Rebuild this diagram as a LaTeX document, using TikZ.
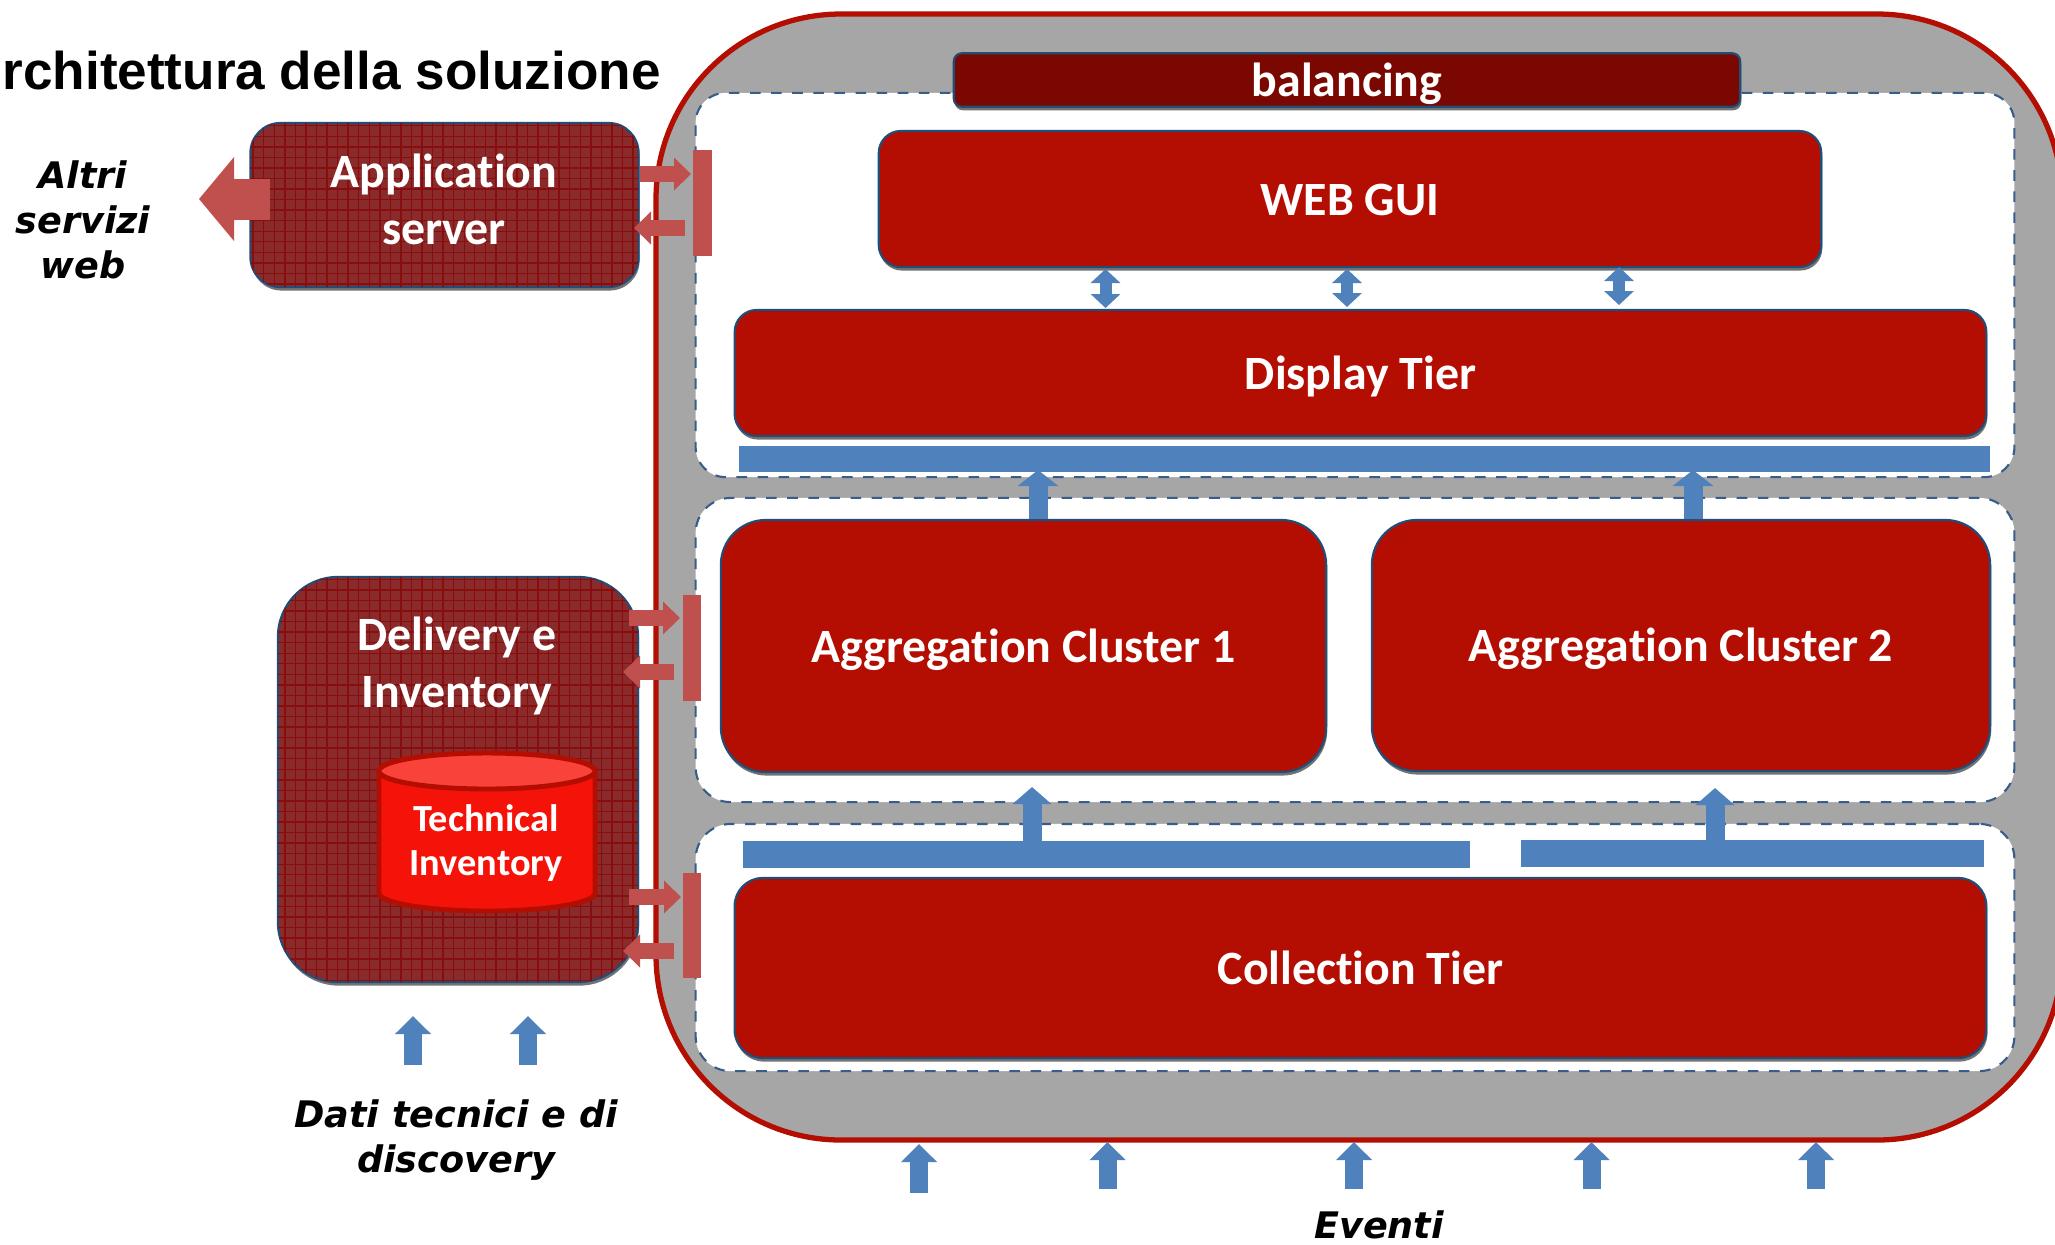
\documentclass[tikz,border=0pt]{standalone}
\usepackage{fontspec}
\setmainfont{Carlito}[Ligatures=NoCommon]
\newfontfamily\titlefont{Liberation Sans}
\newfontfamily\notefont{DejaVu Sans}
\usetikzlibrary{arrows.meta, patterns, shadows}
\definecolor{boxred}{HTML}{B40D02}
\definecolor{darkred}{HTML}{7A0800}
\definecolor{texred}{HTML}{8A2A2A}
\definecolor{gridred}{HTML}{860E0E}
\definecolor{linkred}{HTML}{C0504D}
\definecolor{linkblue}{HTML}{4F81BD}
\definecolor{edgeblue}{HTML}{1F4E79}
\definecolor{dashblue}{HTML}{385D8A}
\definecolor{cylred}{HTML}{F51309}
\definecolor{cyltop}{HTML}{F9423A}
\tikzset{
    edgeshadow/.style={general shadow={shadow xshift=0.01cm, shadow yshift=-0.035cm, fill=black!55}},
    tierbox/.style={rectangle, draw=edgeblue, line width=0.6pt, fill=boxred, text=white, edgeshadow, inner sep=0pt, text height=0.4cm, text depth=0.08cm, font=\bfseries\fontsize{13.6}{16}\selectfont},
    texbox/.style={rectangle, draw=edgeblue, line width=0.6pt, fill=texred, text=white, edgeshadow, postaction={pattern=grid, pattern color=gridred}},
    boxtext/.style={text=white, align=center, font=\bfseries\fontsize{13.6}{16.2}\selectfont},
    panel/.style={rectangle, draw=dashblue, dashed, line width=0.6pt, fill=white},
    note/.style={text=black, align=center, font=\notefont\bfseries\itshape\fontsize{10.4}{12.7}\selectfont},
    bluebar/.style={fill=linkblue},
    redbar/.style={fill=linkred},
    bluelink/.style={draw=linkblue, line width=0.19cm, -{Triangle[width=0.38cm,length=0.17cm]}},
    bothlink/.style={draw=linkblue, line width=0.12cm, {Triangle[width=0.29cm,length=0.14cm]}-{Triangle[width=0.29cm,length=0.14cm]}},
    redlink/.style={draw=linkred, line width=0.16cm, -{Triangle[width=0.32cm,length=0.17cm]}},
    cylpart/.style={draw=boxred, line width=1.4pt}
}
\begin{document}
\begin{tikzpicture}[x=0.01cm, y=-0.01cm]
    \clip (0,0) rectangle (2055,1244);
    \fill[white] (0,0) rectangle (2055,1244);
    % main area
    \draw[draw=boxred, line width=1.5pt, fill=black!35, rounded corners=1.85cm] (656,14) rectangle (2062,1140);
    \node[panel, rounded corners=0.3cm, minimum width=13.18cm, minimum height=3.84cm] (displaypanel) at (1355,285) {};
    \node[panel, rounded corners=0.35cm, minimum width=13.18cm, minimum height=3.04cm] (clusterpanel) at (1355,650) {};
    \node[panel, rounded corners=0.35cm, minimum width=13.18cm, minimum height=2.47cm] (collectpanel) at (1355,947.5) {};
    % tiers
    \node[tierbox, fill=darkred, rounded corners=0.08cm, minimum width=7.86cm, minimum height=0.535cm] (balancing) at (1347,80) {balancing};
    \node[tierbox, rounded corners=0.22cm, minimum width=9.42cm, minimum height=1.36cm] (webgui) at (1350,199) {WEB GUI};
    \node[tierbox, rounded corners=0.22cm, minimum width=12.51cm, minimum height=1.26cm] (display) at (1360.5,373) {Display Tier};
    \node[tierbox, rounded corners=0.45cm, minimum width=6.05cm, minimum height=2.52cm] (cluster1) at (1023.5,646) {Aggregation Cluster 1};
    \node[tierbox, rounded corners=0.45cm, minimum width=6.18cm, minimum height=2.51cm] (cluster2) at (1681,645.5) {Aggregation Cluster 2};
    \node[tierbox, rounded corners=0.28cm, minimum width=12.51cm, minimum height=1.8cm] (collection) at (1360.5,968) {Collection Tier};
    % blue bars
    \fill[bluebar] (739,446) rectangle (1990,472);
    \fill[bluebar] (743,841) rectangle (1470,868);
    \fill[bluebar] (1521,840) rectangle (1984,867);
    \coordinate (bartop1) at (1038,470);
    \coordinate (bartop2) at (1693,470);
    \coordinate (barlow1) at (1032,841);
    \coordinate (barlow2) at (1715,840);
    \draw[bluelink, -{Triangle[width=0.4cm,length=0.16cm]}] (bartop1 |- cluster1.north) -- (bartop1);
    \draw[bluelink, -{Triangle[width=0.4cm,length=0.16cm]}] (bartop2 |- cluster2.north) -- (bartop2);
    \draw[bluelink] (barlow1) -- (1032,787);
    \draw[bluelink] (barlow2) -- (1715,788);
    \draw[bothlink] (1105.5,269) -- (1105.5,308);
    \draw[bothlink] (1347,269) -- (1347,307);
    \draw[bothlink] (1619,267) -- (1619,305);
    % left side
    \node[texbox, rounded corners=0.3cm, minimum width=3.88cm, minimum height=1.64cm] (appserver) at (444.5,205) {};
    \node[boxtext] (apptxt) at (444,199) {Application\\server};
    \node[texbox, rounded corners=0.6cm, minimum width=3.6cm, minimum height=4.05cm] (delivery) at (458,779.5) {};
    \node[boxtext] (deliverytxt) at (457,666) {Delivery e\\Inventory};
    \filldraw[cylpart, fill=cylred] (379,771) -- (379,893) arc[start angle=180, end angle=360, x radius=1.08cm, y radius=0.18cm] -- (595,771) -- cycle;
    \filldraw[cylpart, fill=cyltop] (487,771) ellipse[x radius=1.08cm, y radius=0.18cm];
    \node[text=white, align=center, font=\bfseries\fontsize{10.9}{12.6}\selectfont] (inventorytxt) at (486,843) {Technical\\Inventory};
    % red bars and links
    \fill[redbar] (693,150) rectangle (712,256);
    \fill[redbar] (683,595) rectangle (701,701);
    \fill[redbar] (683,873) rectangle (701,978);
    \draw[redlink, line width=0.41cm, -{Triangle[width=0.82cm,length=0.35cm]}] (270,199) -- (199,199);
    \draw[redlink] (appserver.east |- 0,174) -- (691,174);
    \draw[redlink] (685,228) -- (634,228);
    \draw[redlink] (629,618) -- (680,618);
    \draw[redlink] (674,672) -- (623,672);
    \draw[redlink] (629,897) -- (681,897);
    \draw[redlink] (674,951) -- (623,951);
    % inputs
    \foreach \px/\tip/\bas in {919/1144/1193, 1107.5/1142/1189, 1354/1142/1189, 1591.5/1142/1189, 1816/1142/1189, 413/1016/1065, 528/1016/1065} {
        \draw[bluelink, line width=0.18cm, -{Triangle[width=0.35cm,length=0.18cm]}] (\px,\bas) -- (\px,\tip);
    }
    % texts
    \node[anchor=base west, inner sep=0pt, font=\titlefont\bfseries\fontsize{15.1}{18}\selectfont] (title) at (2,89) {rchitettura della soluzione};
    \node[note] (altri) at (83,220) {Altri\\servizi\\web};
    \node[note] (dati) at (456,1140) {Dati tecnici e di\\discovery};
    \node[note] (eventi) at (1379,1225) {Eventi};
\end{tikzpicture}
\end{document}
